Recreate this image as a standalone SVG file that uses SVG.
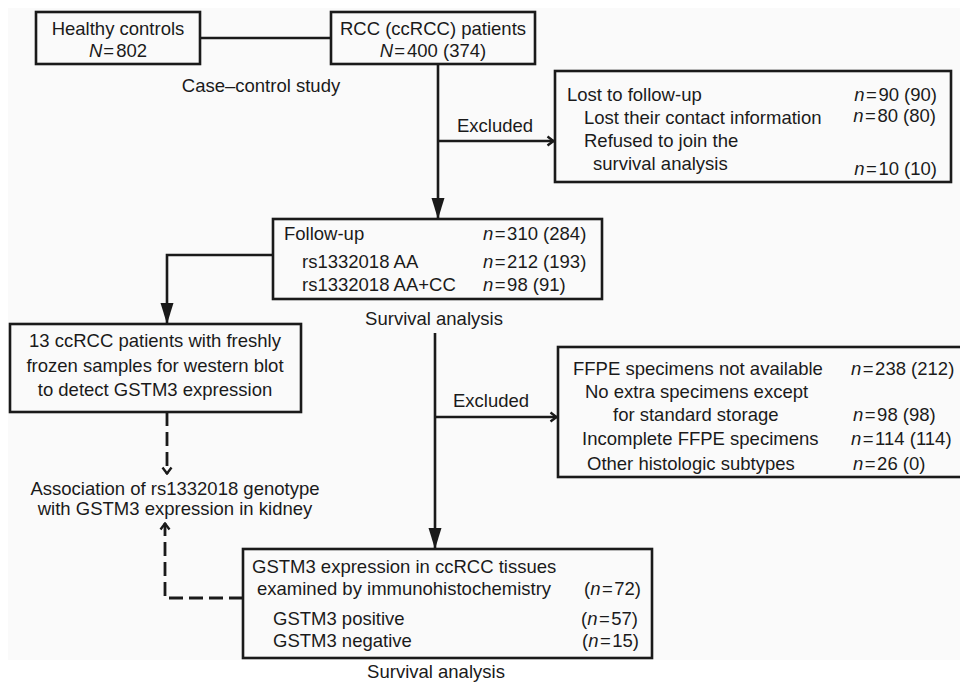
<svg xmlns="http://www.w3.org/2000/svg" width="960" height="684" viewBox="0 0 960 684">
<style>
text{font-family:"Liberation Sans",Arial,Helvetica,sans-serif;font-size:18.5px;fill:#1a1a1a}
.box{fill:none;stroke:#1a1a1a;stroke-width:2.6}
.ln{fill:none;stroke:#1a1a1a;stroke-width:2.6}
.dash{fill:none;stroke:#1a1a1a;stroke-width:2.8;stroke-dasharray:14 6}
.m{text-anchor:middle}
.e{text-anchor:end}
.i{font-style:italic}
</style>
<defs>
<marker id="tri" markerUnits="userSpaceOnUse" viewBox="0 -7 21 14" markerWidth="21" markerHeight="14" refX="21" refY="0" orient="auto">
<path d="M0,-6.5 L21,0 L0,6.5 Z" fill="#1a1a1a"/>
</marker>
<marker id="chev" markerUnits="userSpaceOnUse" viewBox="0 -6 9 12" markerWidth="9" markerHeight="12" refX="8" refY="0" orient="auto">
<path d="M1.5,-4.5 L7.5,0 L1.5,4.5" fill="none" stroke="#1a1a1a" stroke-width="2.4" stroke-dasharray="none"/>
</marker>
</defs>
<rect x="0" y="0" width="960" height="684" fill="#ffffff"/>
<rect x="8" y="8" width="952" height="652" fill="#fafafa"/>

<g id="connectors">
<line class="ln" x1="200" y1="38" x2="331" y2="38"/>
<line class="ln" x1="438" y1="64" x2="438" y2="219" marker-end="url(#tri)"/>
<line class="ln" x1="438" y1="141" x2="554" y2="141" marker-end="url(#chev)"/>
<polyline class="ln" points="273,255 167,255 167,324" marker-end="url(#tri)"/>
<line class="ln" x1="435" y1="333" x2="435" y2="549" marker-end="url(#tri)"/>
<line class="ln" x1="435" y1="417" x2="557" y2="417" marker-end="url(#chev)"/>
<line class="dash" x1="167" y1="412" x2="167" y2="474" marker-end="url(#chev)"/>
<polyline class="dash" points="243,598 165,598 165,523" marker-end="url(#chev)"/>
</g>

<g id="healthy">
<rect class="box" x="36" y="12" width="164" height="52"/>
<text class="m" x="118" y="35">Healthy controls</text>
<text class="m" x="118" y="57"><tspan class="i">N</tspan><tspan dx="1">=</tspan><tspan dx="2">802</tspan></text>
</g>

<g id="rcc">
<rect class="box" x="331" y="12" width="204" height="52"/>
<text class="m" x="433" y="35">RCC (ccRCC) patients</text>
<text class="m" x="433" y="57"><tspan class="i">N</tspan><tspan dx="1">=</tspan><tspan dx="2">400 (374)</tspan></text>
</g>

<g id="label-casecontrol">
<text class="m" x="261" y="92">Case–control study</text>
</g>

<g id="label-excluded1">
<text x="457" y="132">Excluded</text>
</g>

<g id="lost">
<rect class="box" x="555" y="71" width="396" height="111"/>
<text x="567" y="101">Lost to follow-up</text>
<text x="584" y="124">Lost their contact information</text>
<text x="584" y="147">Refused to join the</text>
<text x="593" y="170">survival analysis</text>
<text class="e" x="937" y="101"><tspan class="i">n</tspan><tspan dx="1.5">=</tspan><tspan dx="1.5">90 (90)</tspan></text>
<text class="e" x="936" y="122"><tspan class="i">n</tspan><tspan dx="1.5">=</tspan><tspan dx="1.5">80 (80)</tspan></text>
<text class="e" x="937" y="175"><tspan class="i">n</tspan><tspan dx="1.5">=</tspan><tspan dx="1.5">10 (10)</tspan></text>
</g>

<g id="followup">
<rect class="box" x="273" y="219" width="329" height="80"/>
<text x="284" y="240">Follow-up</text>
<text x="302" y="268">rs1332018 AA</text>
<text x="302" y="291">rs1332018 AA+CC</text>
<text x="483" y="240"><tspan class="i">n</tspan><tspan dx="1.5">=</tspan><tspan dx="1.5">310 (284)</tspan></text>
<text x="483" y="268"><tspan class="i">n</tspan><tspan dx="1.5">=</tspan><tspan dx="1.5">212 (193)</tspan></text>
<text x="483" y="291"><tspan class="i">n</tspan><tspan dx="1.5">=</tspan><tspan dx="1.5">98 (91)</tspan></text>
</g>

<g id="label-survival1">
<text class="m" x="434" y="325">Survival analysis</text>
</g>

<g id="western">
<rect class="box" x="10" y="324" width="291" height="88"/>
<text class="m" x="155" y="347">13 ccRCC patients with freshly</text>
<text class="m" x="155" y="372">frozen samples for western blot</text>
<text class="m" x="155" y="396">to detect GSTM3 expression</text>
</g>

<g id="label-excluded2">
<text x="453" y="407">Excluded</text>
</g>

<g id="ffpe">
<rect class="box" x="558" y="347" width="410" height="130"/>
<text x="573" y="375">FFPE specimens not available</text>
<text x="585" y="398">No extra specimens except</text>
<text x="613" y="421">for standard storage</text>
<text x="582" y="445">Incomplete FFPE specimens</text>
<text x="587" y="470">Other histologic subtypes</text>
<text x="851" y="375"><tspan class="i">n</tspan><tspan dx="1.5">=</tspan><tspan dx="1.5">238 (212)</tspan></text>
<text x="853" y="421"><tspan class="i">n</tspan><tspan dx="1.5">=</tspan><tspan dx="1.5">98 (98)</tspan></text>
<text x="851" y="445"><tspan class="i">n</tspan><tspan dx="1.5">=</tspan><tspan dx="1.5">114 (114)</tspan></text>
<text x="853" y="470"><tspan class="i">n</tspan><tspan dx="1.5">=</tspan><tspan dx="1.5">26 (0)</tspan></text>
</g>

<g id="association">
<text class="m" x="175" y="495">Association of rs1332018 genotype</text>
<text class="m" x="175" y="515">with GSTM3 expression in kidney</text>
</g>

<g id="gstm3">
<rect class="box" x="243" y="549" width="409" height="109"/>
<text x="252" y="573">GSTM3 expression in ccRCC tissues</text>
<text x="257" y="595">examined by immunohistochemistry</text>
<text x="273" y="625">GSTM3 positive</text>
<text x="273" y="647">GSTM3 negative</text>
<text class="e" x="641" y="595">(<tspan class="i">n</tspan><tspan dx="1.5">=</tspan><tspan dx="1.5">72)</tspan></text>
<text class="e" x="638" y="625">(<tspan class="i">n</tspan><tspan dx="1.5">=</tspan><tspan dx="1.5">57)</tspan></text>
<text class="e" x="639" y="647">(<tspan class="i">n</tspan><tspan dx="1.5">=</tspan><tspan dx="1.5">15)</tspan></text>
</g>

<g id="label-survival2">
<text class="m" x="436" y="678">Survival analysis</text>
</g>
</svg>
